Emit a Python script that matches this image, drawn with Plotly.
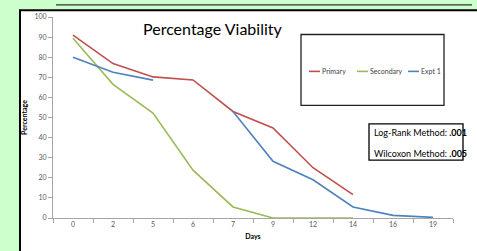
import plotly.graph_objects as go

days = ["0", "2", "5", "6", "7", "9", "12", "14", "16", "19"]
primary = [91, 76.8, 70.2, 68.7, 53, 44.8, 25, 11.6, None, None]
secondary = [89.4, 66.5, 52.2, 23.8, 5.5, 0, 0, 0, None, None]
expt1 = [80, 72.5, 68.6, None, 53, 28.2, 19, 5.5, 1.3, 0.3]
series_names = ["Primary", "Secondary", "Expt 1"]
series_colors = ["#C0504D", "#9BBB59", "#4F81BD"]
y_ticks = [0, 10, 20, 30, 40, 50, 60, 70, 80, 90, 100]

W, H = 477, 251
L, R, T, B = 53, 24, 13, 31
PW, PH = W - L - R, H - T - B
FONT = "Lato"


def px(x):
    return (x - L) / PW


def py(y):
    return (H - B - y) / PH


fig = go.Figure()
for name, vals, col in zip(series_names, [primary, secondary, expt1], series_colors):
    fig.add_trace(go.Scatter(x=days, y=vals, name=name, mode="lines",
                             line=dict(color=col, width=1.6), connectgaps=False,
                             showlegend=False))

shapes = [
    # white chart area with black frame
    dict(type="rect", xref="paper", yref="paper", x0=px(20), x1=px(490), y0=py(6), y1=py(260),
         fillcolor="white", line=dict(color="black", width=2), layer="below"),
    # dark edge of element above
    dict(type="line", xref="paper", yref="paper", x0=px(56), x1=px(472), y0=py(0.6), y1=py(0.6),
         line=dict(color="#333333", width=1.2), layer="below"),
    # legend box
    dict(type="rect", xref="paper", yref="paper", x0=px(301), x1=px(444), y0=py(31), y1=py(104),
         fillcolor="white", line=dict(color="#222222", width=1.3), layer="below"),
    # stats box
    dict(type="rect", xref="paper", yref="paper", x0=px(369), x1=px(463), y0=py(123), y1=py(160.5),
         fillcolor="white", line=dict(color="black", width=1.3), layer="below"),
]

annotations = [
    dict(text="Percentage Viability", xref="paper", yref="paper", x=px(213), y=py(25),
         xanchor="center", yanchor="middle", showarrow=False,
         font=dict(family=FONT, size=16, color="black")),
    dict(text="Log-Rank Method: <b>.001</b>", xref="paper", yref="paper", x=px(372), y=py(132),
         xanchor="left", yanchor="middle", showarrow=False,
         font=dict(family=FONT, size=9, color="black")),
    dict(text="Wilcoxon Method: <b>.005</b>", xref="paper", yref="paper", x=px(372), y=py(154),
         xanchor="left", yanchor="middle", showarrow=False,
         font=dict(family=FONT, size=9, color="black")),
]

# manual legend inside its box
leg_x = [309, 357, 408]
for name, col, lx in zip(series_names, series_colors, leg_x):
    shapes.append(dict(type="line", xref="paper", yref="paper", x0=px(lx), x1=px(lx + 11),
                       y0=py(69), y1=py(69), line=dict(color=col, width=1.6)))
    annotations.append(dict(text=name, xref="paper", yref="paper", x=px(lx + 11), y=py(69),
                            xanchor="left", yanchor="middle", showarrow=False,
                            font=dict(family=FONT, size=7, color="#404040")))

fig.update_layout(
    width=W, height=H,
    margin=dict(l=L, r=R, t=T, b=B),
    paper_bgcolor="#CCFFCC",
    plot_bgcolor="rgba(0,0,0,0)",
    shapes=shapes,
    annotations=annotations,
    font=dict(family=FONT, size=7, color="#595959"),
    xaxis=dict(type="category", categoryorder="array", categoryarray=days,
               tickson="boundaries", ticks="outside", ticklen=4, tickcolor="#A6A6A6",
               showline=True, linecolor="#A6A6A6", linewidth=1, showgrid=False, zeroline=False,
               tickfont=dict(family=FONT, size=7, color="#595959"),
               title=dict(text="<b>Days</b>", font=dict(family=FONT, size=7, color="black"),
                          standoff=6),
               range=[-0.5, 9.5], fixedrange=True),
    yaxis=dict(range=[0, 100], tickvals=y_ticks, ticks="outside", ticklen=4,
               tickcolor="#A6A6A6", showline=True, linecolor="#A6A6A6", linewidth=1,
               showgrid=False, zeroline=False,
               tickfont=dict(family=FONT, size=7, color="#595959"),
               title=dict(text="<b>Percentage</b>", font=dict(family=FONT, size=7, color="black"),
                          standoff=5),
               fixedrange=True),
    showlegend=False,
)

fig.write_html("out.html", config={"displayModeBar": False},
               post_script="document.body.style.margin='0';document.body.style.overflow='hidden';")
